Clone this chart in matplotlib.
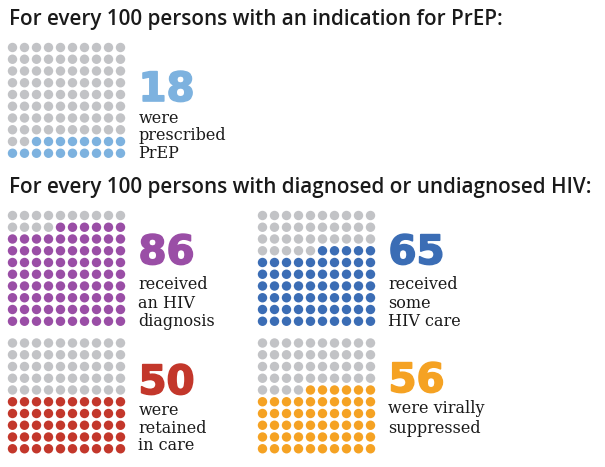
import numpy as np
import matplotlib
matplotlib.use("Agg")
from matplotlib import pyplot as plt
from matplotlib import patheffects as pe

# values
titles = ["For every 100 persons with an indication for PrEP:",
          "For every 100 persons with diagnosed or undiagnosed HIV:"]
values = [18, 86, 65, 50, 56]
colors = ["#7db2df", "#9a4ea6", "#3b6db5", "#c3372b", "#f5a223"]
labels = [["were", "prescribed", "PrEP"],
          ["received", "an HIV", "diagnosis"],
          ["received", "some", "HIV care"],
          ["were", "retained", "in care"],
          ["were virally", "suppressed"]]
grey = "#c2c3c6"

# layout in pixels (x of first dot, y of top row)
grid_x0 = [12.5, 12.5, 262.5, 12.5, 262.5]
grid_y0 = [47.5, 215.5, 215.5, 343, 343]
dx, dy = 12.0, 11.75
num_base = [101, 264, 264, 394, 392]
txt_base = [[123, 140.5, 158], [289, 307.5, 326], [289, 307.5, 326],
            [415, 433, 450.5], [413, 433]]

fig = plt.figure(figsize=(6.05, 4.67), dpi=100)
ax = fig.add_axes([0, 0, 1, 1])
ax.set_xlim(0, 605)
ax.set_ylim(467, 0)
ax.axis("off")

for t, y in zip(titles, [20, 187]):
    ax.text(9, y, t, fontsize=14.9, fontweight="semibold", family="Open Sans",
            va="center", color="#1a1a1a")

rows, cols = np.mgrid[0:10, 0:10]
rows = rows.ravel()
cols = cols.ravel()
order = (9 - rows) * 10 + (9 - cols)

for i, v in enumerate(values):
    xs = grid_x0[i] + cols * dx
    ys = grid_y0[i] + rows * dy
    c = np.where(order < v, colors[i], grey)
    ax.scatter(xs, ys, s=46, c=list(c), linewidths=0)
    tx = grid_x0[i] + 126
    ax.text(tx, num_base[i], str(v), fontsize=29, fontweight="bold",
            family="DejaVu Sans", color=colors[i], va="baseline",
            path_effects=[pe.withStroke(linewidth=1.2, foreground=colors[i])])
    for line, yb in zip(labels[i], txt_base[i]):
        ax.text(tx, yb, line, fontsize=11.5, family="DejaVu Serif",
                color="#1a1a1a", va="baseline")

fig.savefig("out.png", dpi=100)
